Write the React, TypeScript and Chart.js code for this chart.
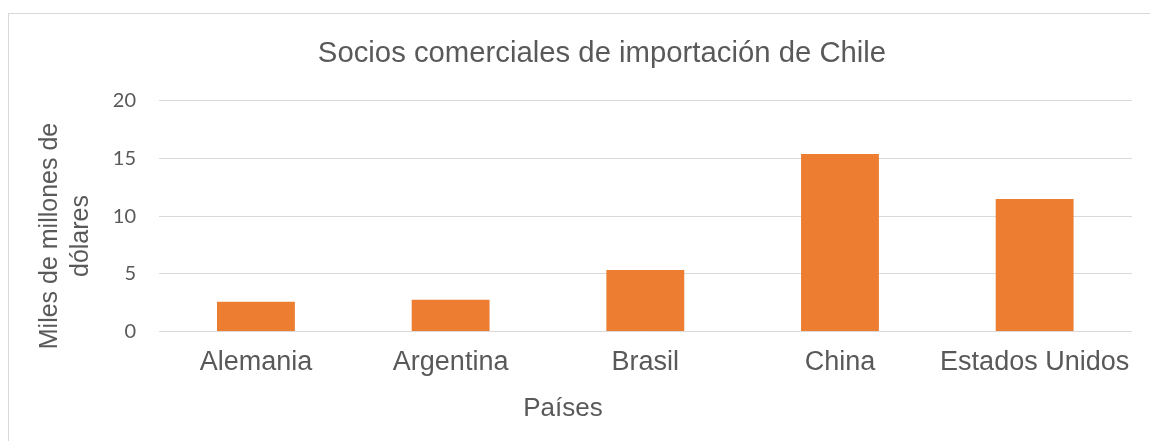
import React, { useEffect, useRef } from "react";
import { Chart, registerables } from "chart.js";

Chart.register(...registerables);

const categories = ["Alemania", "Argentina", "Brasil", "China", "Estados Unidos"];
const values = [2.58, 2.76, 5.33, 15.38, 11.48];
const chartTitle = "Socios comerciales de importación de Chile";
const yTitleLines = ["Miles de millones de", "dólares"];
const xTitle = "Países";

const TEXT = "#595959";
const GRID = "#d9d9d9";
const BAR = "#ED7D31";

const axisTitles = {
  id: "axisTitles",
  afterDraw(chart: any) {
    const ctx = chart.ctx;
    ctx.save();
    ctx.fillStyle = TEXT;
    ctx.textAlign = "center";
    ctx.textBaseline = "middle";
    ctx.font = "25px 'Liberation Sans', Arial, sans-serif";
    ctx.translate(41.3, 222);
    ctx.rotate(-Math.PI / 2);
    yTitleLines.forEach((line, i) => ctx.fillText(line, 0, i * 31));
    ctx.restore();
    ctx.save();
    ctx.fillStyle = TEXT;
    ctx.textAlign = "center";
    ctx.textBaseline = "middle";
    ctx.font = "26px 'Liberation Sans', Arial, sans-serif";
    ctx.fillText(xTitle, 554, 395);
    ctx.restore();
  },
};

export default function App() {
  const ref = useRef<HTMLCanvasElement | null>(null);
  useEffect(() => {
    if (!ref.current) return;
    const chart = new Chart(ref.current, {
      type: "bar",
      data: {
        labels: categories,
        datasets: [
          {
            data: values,
            backgroundColor: BAR,
            borderWidth: 0,
            barPercentage: 0.4,
            categoryPercentage: 1,
          },
        ],
      },
      options: {
        responsive: false,
        animation: false,
        layout: { padding: { left: 63, right: 63, top: 0, bottom: 0 } },
        plugins: {
          legend: { display: false },
          tooltip: { enabled: false },
          title: {
            display: true,
            text: chartTitle,
            color: TEXT,
            font: { family: "'Liberation Sans', Arial, sans-serif", size: 29.3, weight: "normal", lineHeight: 1.2 },
            padding: { top: 22.5, bottom: 29.1 },
          },
        },
        scales: {
          x: {
            grid: { display: false, drawTicks: false },
            border: { display: false },
            ticks: {
              color: TEXT,
              padding: 15,
              maxRotation: 0,
              autoSkip: false,
              font: { family: "'Liberation Sans', Arial, sans-serif", size: 27, lineHeight: 1.2 },
            },
            afterFit(scale: any) {
              scale.height = 109.5;
            },
          },
          y: {
            min: 0,
            max: 20,
            ticks: {
              stepSize: 5,
              color: TEXT,
              padding: 22.6,
              font: { family: "Lato, 'Open Sans', sans-serif", size: 20 },
            },
            grid: { color: GRID, lineWidth: 1, drawTicks: false },
            border: { display: false },
            afterFit(scale: any) {
              scale.width = 86.6;
            },
          },
        },
      },
      plugins: [axisTitles],
    });
    return () => chart.destroy();
  }, []);

  return (
    <div
      style={{
        position: "absolute",
        left: 8,
        top: 13,
        width: 1141,
        height: 427,
        overflow: "hidden",
        borderLeft: `1px solid ${GRID}`,
        borderTop: `1px solid ${GRID}`,
        background: "#fff",
      }}
    >
      <canvas ref={ref} width={1186} height={427} style={{ display: "block" }} />
    </div>
  );
}
